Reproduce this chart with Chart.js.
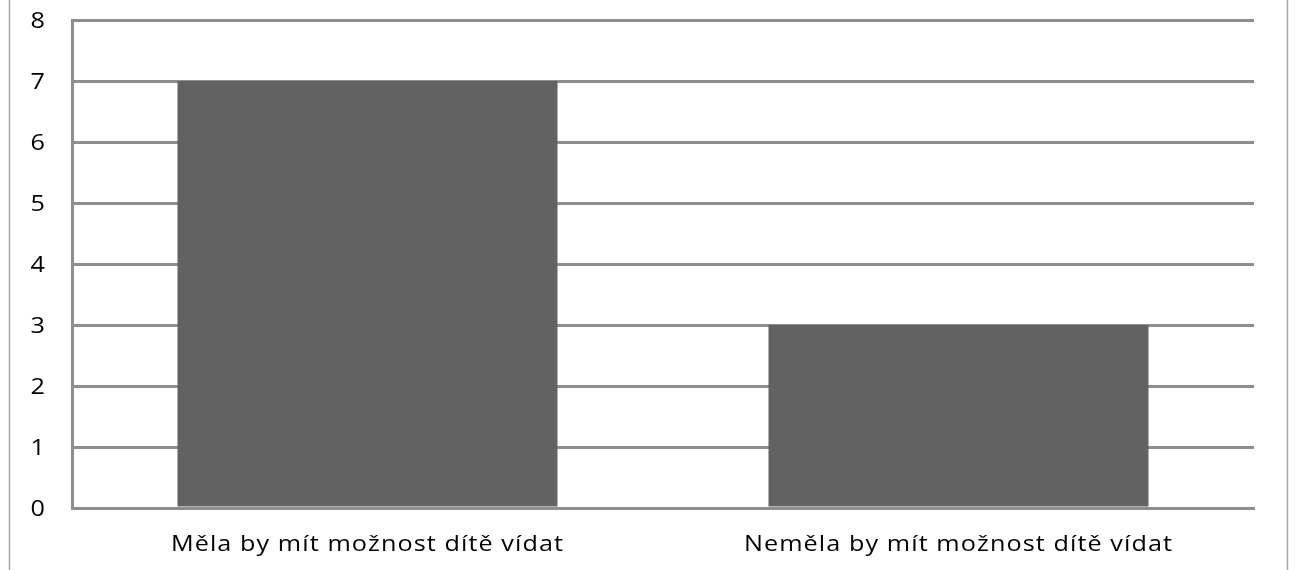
<!DOCTYPE html>
<html>
<head>
<meta charset="utf-8">
<script src="https://cdn.jsdelivr.net/npm/chart.js@4/dist/chart.umd.min.js"></script>
<style>
  html, body { margin: 0; padding: 0; background: #ffffff; }
  #wrap { width: 1295px; height: 570px; position: relative; }
</style>
</head>
<body>
<div id="wrap"><canvas id="c" width="1295" height="570"></canvas></div>
<script>
// Answer categories and counts
const categories = ['Měla by mít možnost dítě vídat', 'Neměla by mít možnost dítě vídat'];
const counts = [7, 3];
const yTicks = [0, 1, 2, 3, 4, 5, 6, 7, 8];

const FONT = "'Open Sans', 'DejaVu Sans', sans-serif";
const FONT_SIZE = 21;
const TEXT_STRETCH = 1.2;   // labels are set in a horizontally widened face
const GRID = '#8e8e8e';

// White background and the thin outer frame lines
const framePlugin = {
  id: 'frame',
  beforeDraw(chart) {
    const ctx = chart.ctx;
    ctx.save();
    ctx.fillStyle = '#ffffff';
    ctx.fillRect(0, 0, chart.width, chart.height);
    ctx.strokeStyle = '#a6a6a6';
    ctx.lineWidth = 1.5;
    ctx.beginPath();
    ctx.moveTo(9.5, 0); ctx.lineTo(9.5, chart.height);
    ctx.moveTo(1287.5, 0); ctx.lineTo(1287.5, chart.height);
    ctx.stroke();
    ctx.restore();
  }
};

// Axis labels drawn at the scales' tick positions with a widened glyph shape
const wideLabels = {
  id: 'wideLabels',
  afterDraw(chart) {
    const ctx = chart.ctx;
    const xs = chart.scales.x, ys = chart.scales.y;
    ctx.save();
    ctx.font = FONT_SIZE + 'px ' + FONT;
    ctx.fillStyle = '#000000';
    ctx.textBaseline = 'alphabetic';

    // category labels
    ctx.textAlign = 'center';
    ctx.letterSpacing = '0.9px';
    xs.ticks.forEach((t, i) => {
      ctx.save();
      ctx.translate(xs.getPixelForTick(i), xs.top + 43);
      ctx.scale(TEXT_STRETCH, 1);
      ctx.fillText(categories[i], 0, 0);
      ctx.restore();
    });

    // value labels
    ctx.textAlign = 'right';
    ctx.letterSpacing = '0px';
    yTicks.forEach(v => {
      ctx.save();
      ctx.translate(ys.left + 45, ys.getPixelForValue(v) + 7.5);
      ctx.scale(TEXT_STRETCH, 1);
      ctx.fillText(String(v), 0, 0);
      ctx.restore();
    });
    ctx.restore();
  }
};

new Chart(document.getElementById('c'), {
  type: 'bar',
  data: {
    labels: categories,
    datasets: [{
      data: counts,
      backgroundColor: '#626262',
      borderWidth: 0,
      categoryPercentage: 1.0,
      barPercentage: 0.643
    }]
  },
  options: {
    responsive: false,
    animation: false,
    devicePixelRatio: 1,
    layout: { padding: { left: 0, right: 41, top: 0, bottom: 0 } },
    plugins: { legend: { display: false }, tooltip: { enabled: false } },
    scales: {
      x: {
        grid: { display: false, drawTicks: false },
        border: { display: true, color: GRID, width: 3 },
        ticks: {
          color: 'rgba(0,0,0,0)',
          font: { family: FONT, size: FONT_SIZE },
          padding: 22,
          maxRotation: 0,
          autoSkip: false
        },
        afterFit(scale) { scale.height = 62; }
      },
      y: {
        min: 0,
        max: 8,
        afterBuildTicks(scale) { scale.ticks = yTicks.map(v => ({ value: v })); },
        grid: { color: GRID, lineWidth: 3, drawTicks: false },
        border: { display: true, color: GRID, width: 3 },
        ticks: {
          color: 'rgba(0,0,0,0)',
          font: { family: FONT, size: FONT_SIZE },
          padding: 25
        },
        afterFit(scale) {
          scale.width = 72;
          scale.paddingTop = 20;
          scale.paddingBottom = 0;
        }
      }
    }
  },
  plugins: [framePlugin, wideLabels]
});
</script>
</body>
</html>
